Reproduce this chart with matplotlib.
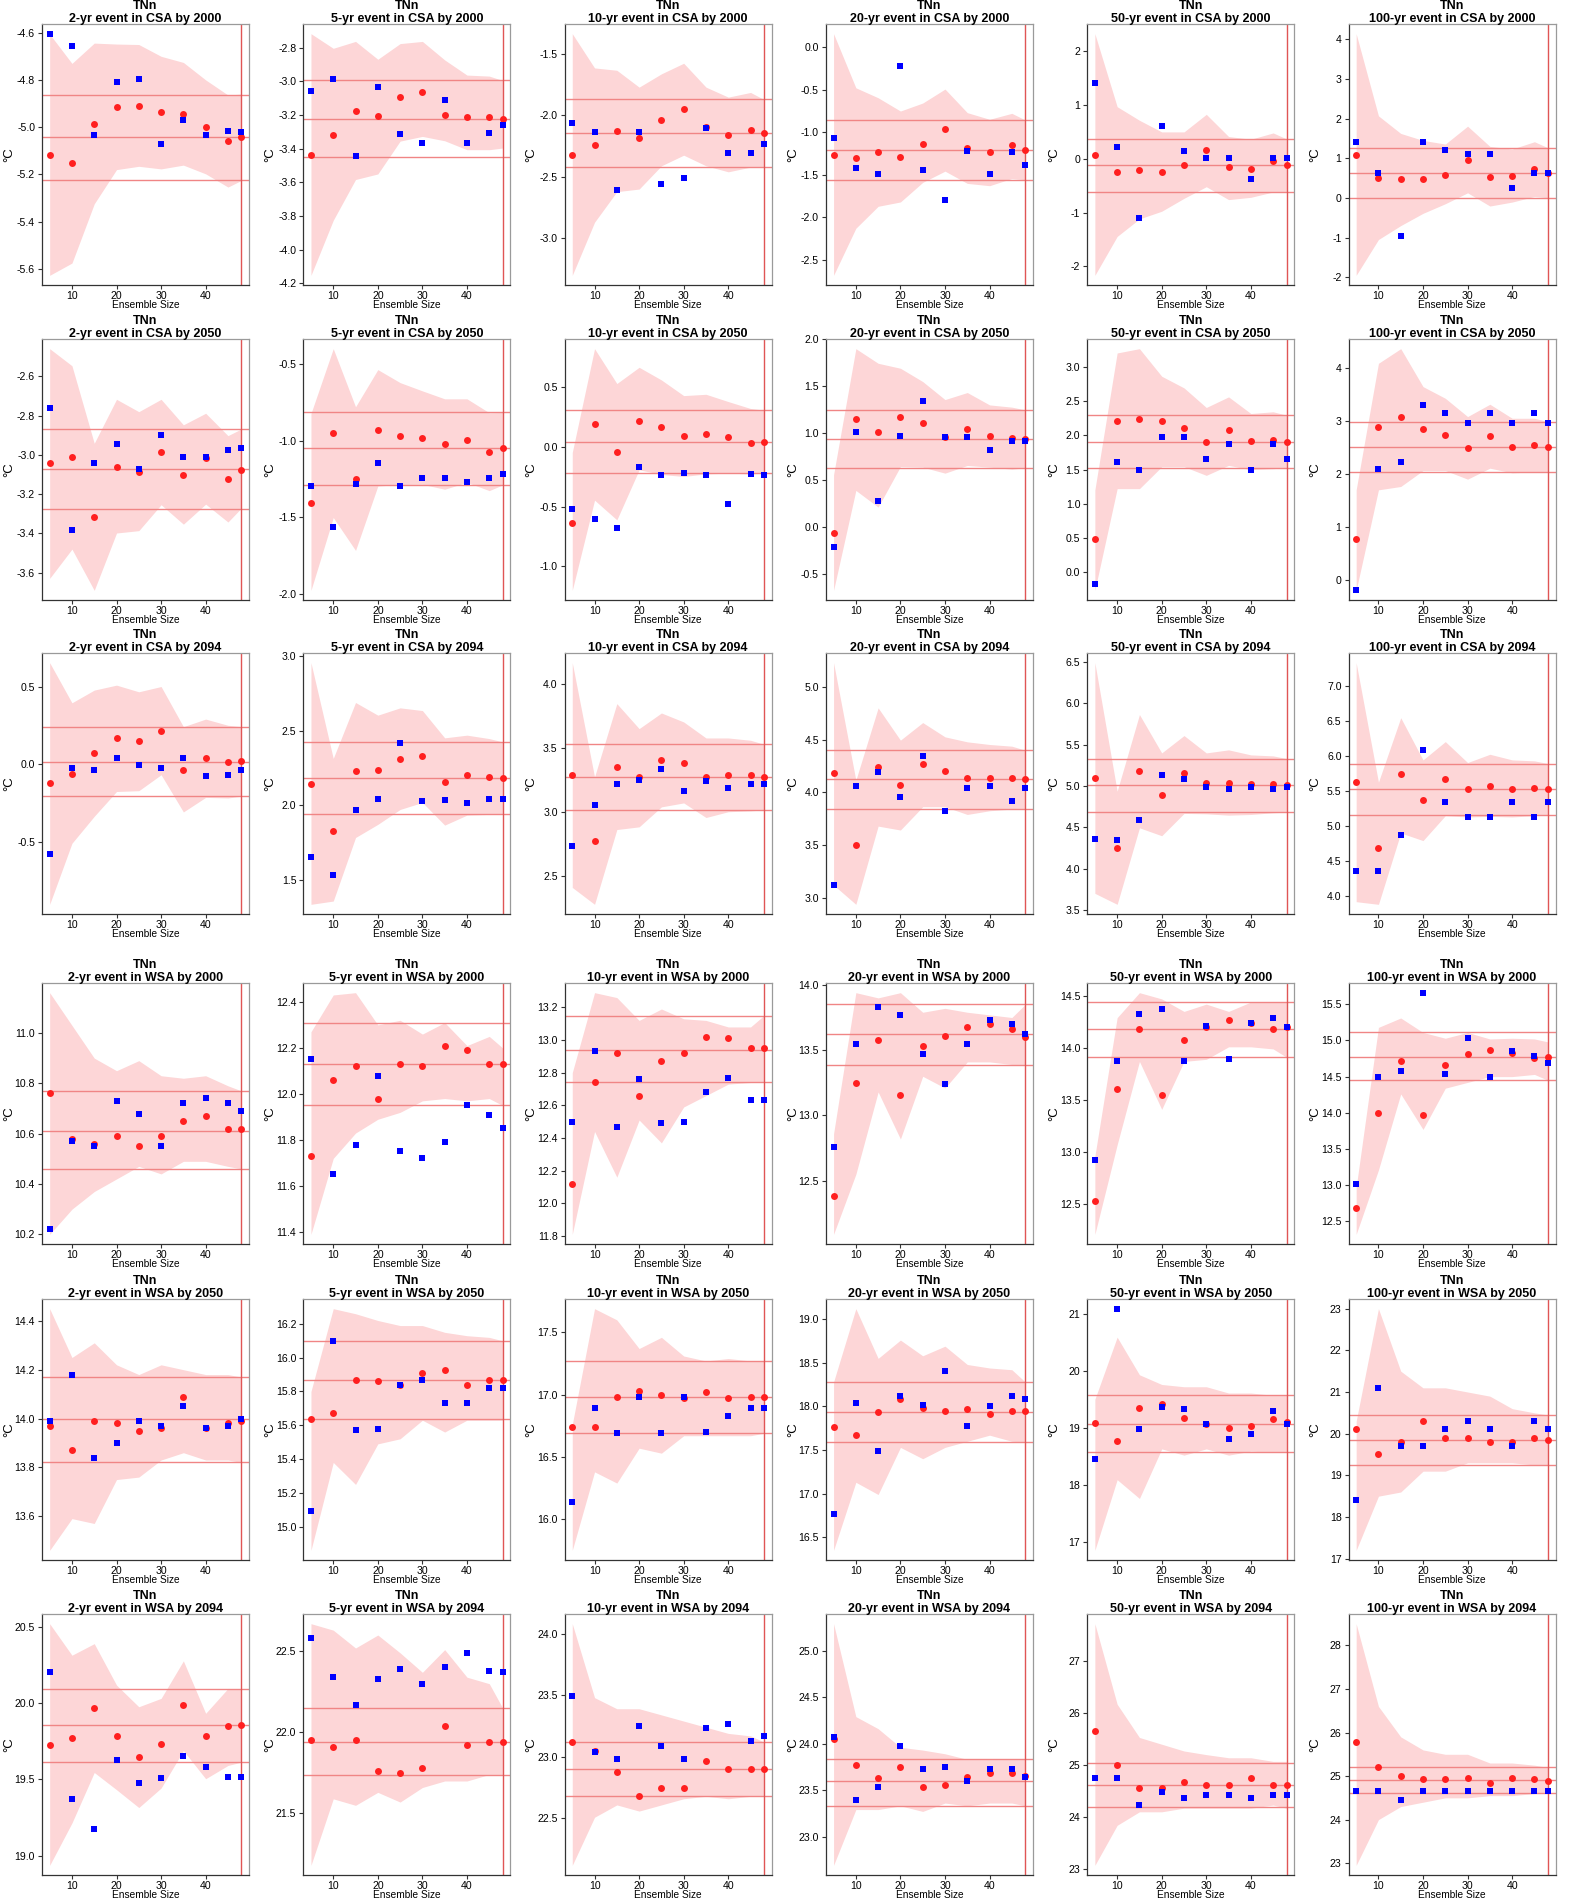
"""TNn return-level convergence vs ensemble size, CSA/WSA, 2000/2050/2094."""

import matplotlib
matplotlib.use("Agg")
import matplotlib.pyplot as plt
import numpy as np

plt.rcParams["font.family"] = ["Liberation Sans", "DejaVu Sans"]
plt.rcParams["axes.unicode_minus"] = False

OUTPUT = "out.png"

ENSEMBLE = [5, 10, 15, 20, 25, 30, 35, 40, 45, 48]
EVENTS = ["2-yr", "5-yr", "10-yr", "20-yr", "50-yr", "100-yr"]
SCENARIOS = [("CSA", 2000), ("CSA", 2050), ("CSA", 2094),
             ("WSA", 2000), ("WSA", 2050), ("WSA", 2094)]

# ---------------------------------------------------------------------------
# Data: one list per scenario, one row per event (2,5,10,20,50,100-yr)
# red = circles, blue = squares, hi/lo = shaded band, lines = 3 horizontal refs
# ---------------------------------------------------------------------------
csa2000_red = [
    [-5.120, -5.154, -4.985, -4.913, -4.909, -4.937, -4.943, -5.000, -5.060, -5.043],
    [-3.435, -3.319, -3.174, -3.207, -3.091, -3.066, -3.197, -3.213, -3.213, -3.223],
    [-2.319, -2.241, -2.125, -2.184, -2.039, -1.950, -2.092, -2.157, -2.117, -2.146],
    [-1.264, -1.307, -1.229, -1.287, -1.135, -0.967, -1.186, -1.236, -1.154, -1.209],
    [0.080, -0.241, -0.216, -0.247, -0.117, 0.167, -0.160, -0.185, -0.049, -0.123],
    [1.092, 0.499, 0.474, 0.482, 0.582, 0.958, 0.541, 0.557, 0.724, 0.624],
]
csa2000_blue = [
    [-4.604, -4.655, -5.033, -4.807, -4.795, -5.070, -4.971, -5.033, -5.015, -5.019],
    [-3.060, -2.987, -3.443, -3.034, -3.311, -3.366, -3.109, -3.366, -3.304, -3.260],
    [-2.063, -2.133, -2.607, -2.133, -2.556, -2.507, -2.101, -2.308, -2.308, -2.233],
    [-1.069, -1.424, -1.490, -0.222, -1.447, -1.794, -1.221, -1.490, -1.232, -1.392],
    [1.401, 0.228, -1.093, 0.617, 0.136, 0.012, 0.012, -0.370, 0.012, 0.012],
    [1.410, 0.624, -0.955, 1.410, 1.217, 1.109, 1.109, 0.240, 0.624, 0.624],
]
csa2000_hi = [
    [-4.606, -4.730, -4.644, -4.648, -4.650, -4.700, -4.726, -4.800, -4.864, -4.860],
    [-2.717, -2.804, -2.763, -2.869, -2.776, -2.763, -2.873, -2.963, -2.969, -2.995],
    [-1.338, -1.616, -1.635, -1.772, -1.664, -1.578, -1.772, -1.853, -1.815, -1.872],
    [0.156, -0.480, -0.597, -0.753, -0.659, -0.495, -0.772, -0.850, -0.780, -0.858],
    [2.327, 0.969, 0.716, 0.500, 0.500, 0.827, 0.414, 0.364, 0.481, 0.370],
    [4.142, 2.070, 1.627, 1.451, 1.359, 1.810, 1.300, 1.234, 1.418, 1.267],
]
csa2000_lo = [
    [-5.628, -5.576, -5.325, -5.180, -5.166, -5.177, -5.161, -5.198, -5.254, -5.226],
    [-4.152, -3.825, -3.583, -3.550, -3.355, -3.327, -3.353, -3.406, -3.406, -3.396],
    [-3.299, -2.868, -2.620, -2.599, -2.410, -2.324, -2.410, -2.459, -2.421, -2.418],
    [-2.683, -2.130, -1.872, -1.821, -1.591, -1.459, -1.603, -1.630, -1.545, -1.560],
    [-2.167, -1.444, -1.117, -0.975, -0.735, -0.519, -0.759, -0.716, -0.617, -0.611],
    [-1.950, -1.047, -0.696, -0.387, -0.145, 0.130, -0.203, -0.103, 0.039, 0.006],
]
csa2000_lines = [[-4.862, -5.041, -5.222], [-2.995, -3.223, -3.447],
                 [-1.872, -2.146, -2.421], [-0.858, -1.209, -1.560],
                 [0.370, -0.123, -0.617], [1.250, 0.624, 0.006]]

csa2050_red = [
    [-3.042, -3.012, -3.315, -3.061, -3.085, -2.983, -3.102, -3.017, -3.124, -3.075],
    [-1.407, -0.950, -1.252, -0.933, -0.970, -0.980, -1.022, -0.996, -1.074, -1.048],
    [-0.637, 0.193, -0.041, 0.221, 0.171, 0.093, 0.110, 0.087, 0.034, 0.043],
    [-0.070, 1.148, 1.009, 1.169, 1.102, 0.963, 1.045, 0.967, 0.942, 0.938],
    [0.481, 2.209, 2.243, 2.204, 2.112, 1.903, 2.073, 1.913, 1.932, 1.908],
    [0.784, 2.890, 3.072, 2.853, 2.746, 2.495, 2.721, 2.508, 2.552, 2.520],
]
csa2050_blue = [
    [-2.759, -3.381, -3.041, -2.946, -3.073, -2.898, -3.012, -3.012, -2.976, -2.964],
    [-1.293, -1.565, -1.283, -1.146, -1.293, -1.243, -1.243, -1.267, -1.243, -1.220],
    [-0.523, -0.604, -0.679, -0.164, -0.236, -0.214, -0.236, -0.479, -0.230, -0.236],
    [-0.216, 1.006, 0.274, 0.970, 1.347, 0.963, 0.963, 0.821, 0.917, 0.917],
    [-0.175, 1.617, 1.500, 1.981, 1.981, 1.660, 1.869, 1.500, 1.869, 1.660],
    [-0.176, 2.100, 2.238, 3.304, 3.147, 2.959, 3.147, 2.959, 3.147, 2.959],
]
csa2050_hi = [
    [-2.459, -2.546, -2.941, -2.717, -2.780, -2.717, -2.847, -2.788, -2.902, -2.868],
    [-0.822, -0.398, -0.778, -0.535, -0.620, -0.674, -0.726, -0.726, -0.817, -0.815],
    [-0.046, 0.823, 0.531, 0.667, 0.561, 0.430, 0.441, 0.380, 0.322, 0.308],
    [0.555, 1.900, 1.744, 1.691, 1.549, 1.357, 1.432, 1.300, 1.276, 1.247],
    [1.204, 3.204, 3.267, 2.864, 2.694, 2.408, 2.563, 2.320, 2.345, 2.296],
    [1.705, 4.088, 4.364, 3.649, 3.429, 3.085, 3.317, 3.053, 3.053, 2.991],
]
csa2050_lo = [
    [-3.629, -3.480, -3.690, -3.398, -3.386, -3.254, -3.353, -3.251, -3.342, -3.271],
    [-1.978, -1.502, -1.717, -1.296, -1.286, -1.285, -1.317, -1.272, -1.326, -1.289],
    [-1.200, -0.445, -0.610, -0.191, -0.230, -0.247, -0.225, -0.219, -0.225, -0.219],
    [-0.678, 0.388, 0.210, 0.643, 0.636, 0.572, 0.654, 0.636, 0.615, 0.629],
    [-0.262, 1.223, 1.223, 1.544, 1.544, 1.417, 1.563, 1.500, 1.515, 1.529],
    [-0.188, 1.705, 1.768, 2.069, 2.069, 1.906, 2.113, 2.025, 2.044, 2.050],
]
csa2050_lines = [[-2.868, -3.073, -3.278], [-0.815, -1.048, -1.287],
                 [0.308, 0.043, -0.219], [1.247, 0.938, 0.629],
                 [2.296, 1.908, 1.524], [2.978, 2.520, 2.050]]

csa2094_red = [
    [-0.123, -0.063, 0.074, 0.170, 0.151, 0.217, -0.035, 0.042, 0.016, 0.020],
    [2.143, 1.828, 2.232, 2.234, 2.310, 2.328, 2.154, 2.199, 2.188, 2.181],
    [3.288, 2.773, 3.353, 3.270, 3.407, 3.384, 3.270, 3.290, 3.285, 3.275],
    [4.179, 3.500, 4.242, 4.069, 4.264, 4.198, 4.138, 4.138, 4.138, 4.126],
    [5.098, 4.253, 5.179, 4.893, 5.151, 5.034, 5.042, 5.022, 5.022, 5.010],
    [5.635, 4.692, 5.744, 5.374, 5.673, 5.526, 5.578, 5.536, 5.545, 5.531],
]
csa2094_blue = [
    [-0.581, -0.022, -0.035, 0.040, -0.001, -0.022, 0.040, -0.076, -0.070, -0.035],
    [1.652, 1.533, 1.967, 2.038, 2.415, 2.025, 2.033, 2.013, 2.042, 2.042],
    [2.731, 3.054, 3.220, 3.244, 3.337, 3.163, 3.241, 3.189, 3.220, 3.220],
    [3.126, 4.063, 4.195, 3.959, 4.346, 3.827, 4.041, 4.063, 3.918, 4.041],
    [4.357, 4.349, 4.583, 5.131, 5.082, 4.986, 4.966, 4.986, 4.966, 4.986],
    [4.365, 4.365, 4.872, 6.085, 5.341, 5.133, 5.133, 5.341, 5.133, 5.341],
]
csa2094_hi = [
    [0.656, 0.397, 0.479, 0.511, 0.468, 0.502, 0.243, 0.292, 0.252, 0.243],
    [2.955, 2.313, 2.688, 2.603, 2.652, 2.634, 2.451, 2.469, 2.446, 2.424],
    [4.164, 3.272, 3.844, 3.649, 3.771, 3.701, 3.576, 3.576, 3.558, 3.527],
    [5.226, 4.116, 4.799, 4.494, 4.660, 4.525, 4.478, 4.453, 4.437, 4.399],
    [6.492, 4.937, 5.864, 5.400, 5.610, 5.400, 5.437, 5.376, 5.364, 5.332],
    [7.336, 5.630, 6.550, 5.948, 6.209, 5.910, 6.028, 5.948, 5.934, 5.896],
]
csa2094_lo = [
    [-0.903, -0.509, -0.335, -0.175, -0.170, -0.067, -0.307, -0.213, -0.217, -0.205],
    [1.335, 1.357, 1.783, 1.871, 1.971, 2.018, 1.866, 1.933, 1.938, 1.942],
    [2.409, 2.277, 2.861, 2.882, 3.038, 3.069, 2.955, 3.000, 3.007, 3.015],
    [3.126, 2.943, 3.682, 3.645, 3.865, 3.865, 3.792, 3.827, 3.843, 3.843],
    [3.701, 3.568, 4.494, 4.398, 4.668, 4.663, 4.647, 4.655, 4.676, 4.684],
    [3.924, 3.886, 4.905, 4.796, 5.152, 5.133, 5.142, 5.133, 5.152, 5.166],
]
csa2094_lines = [[0.241, 0.016, -0.205], [2.422, 2.181, 1.940],
                 [3.527, 3.270, 3.017], [4.399, 4.126, 3.846],
                 [5.332, 5.006, 4.684], [5.896, 5.531, 5.166]]

wsa2000_red = [
    [10.76, 10.58, 10.56, 10.59, 10.55, 10.59, 10.65, 10.67, 10.62, 10.62],
    [11.73, 12.06, 12.12, 11.98, 12.13, 12.12, 12.21, 12.19, 12.13, 12.13],
    [12.12, 12.74, 12.92, 12.66, 12.87, 12.92, 13.02, 13.01, 12.95, 12.95],
    [12.38, 13.25, 13.58, 13.16, 13.53, 13.61, 13.68, 13.70, 13.66, 13.60],
    [12.53, 13.61, 14.18, 13.55, 14.08, 14.20, 14.27, 14.24, 14.18, 14.20],
    [12.69, 14.00, 14.71, 13.97, 14.66, 14.81, 14.87, 14.82, 14.76, 14.77],
]
wsa2000_blue = [
    [10.22, 10.57, 10.55, 10.73, 10.68, 10.55, 10.72, 10.74, 10.72, 10.69],
    [12.15, 11.65, 11.78, 12.08, 11.75, 11.72, 11.79, 11.95, 11.91, 11.85],
    [12.50, 12.93, 12.47, 12.76, 12.49, 12.50, 12.68, 12.77, 12.63, 12.63],
    [12.76, 13.55, 13.83, 13.77, 13.47, 13.24, 13.55, 13.73, 13.70, 13.62],
    [12.92, 13.87, 14.33, 14.37, 13.87, 14.21, 13.89, 14.24, 14.29, 14.20],
    [13.02, 14.50, 14.58, 15.66, 14.53, 15.03, 14.50, 14.85, 14.79, 14.69],
]
wsa2000_hi = [
    [11.16, 11.03, 10.90, 10.85, 10.89, 10.83, 10.82, 10.83, 10.79, 10.77],
    [12.27, 12.43, 12.44, 12.30, 12.32, 12.26, 12.31, 12.21, 12.25, 12.20],
    [12.80, 13.29, 13.26, 13.12, 13.19, 13.13, 13.12, 13.08, 13.08, 13.15],
    [12.86, 13.94, 13.90, 13.94, 13.79, 13.82, 13.79, 13.77, 13.75, 13.85],
    [12.96, 14.29, 14.53, 14.47, 14.35, 14.42, 14.35, 14.44, 14.44, 14.44],
    [12.97, 15.18, 15.31, 15.11, 15.03, 15.11, 15.02, 15.03, 15.02, 14.98],
]
wsa2000_lo = [
    [10.20, 10.30, 10.37, 10.42, 10.47, 10.44, 10.49, 10.49, 10.47, 10.46],
    [11.39, 11.72, 11.83, 11.89, 11.92, 11.97, 11.98, 11.97, 11.98, 11.95],
    [11.81, 12.44, 12.16, 12.51, 12.37, 12.59, 12.66, 12.73, 12.74, 12.74],
    [12.09, 12.55, 13.18, 12.82, 13.30, 13.21, 13.41, 13.41, 13.39, 13.39],
    [12.21, 13.07, 13.87, 13.41, 13.87, 13.89, 14.01, 14.01, 13.99, 13.91],
    [12.32, 13.21, 14.26, 13.77, 14.34, 14.42, 14.50, 14.50, 14.53, 14.45],
]
wsa2000_lines = [[10.77, 10.61, 10.46], [12.31, 12.13, 11.95],
                 [13.15, 12.94, 12.74], [13.85, 13.62, 13.39],
                 [14.44, 14.18, 13.91], [15.11, 14.77, 14.45]]

wsa2050_red = [
    [13.97, 13.87, 13.99, 13.98, 13.95, 13.96, 14.09, 13.96, 13.98, 13.99],
    [15.64, 15.67, 15.87, 15.86, 15.84, 15.91, 15.93, 15.84, 15.87, 15.87],
    [16.74, 16.74, 16.98, 17.03, 17.00, 16.97, 17.02, 16.97, 16.98, 16.98],
    [17.76, 17.67, 17.94, 18.08, 17.98, 17.95, 17.97, 17.91, 17.95, 17.95],
    [19.09, 18.76, 19.35, 19.41, 19.17, 19.07, 19.00, 19.04, 19.15, 19.10],
    [20.10, 19.50, 19.80, 20.30, 19.90, 19.90, 19.80, 19.80, 19.90, 19.85],
]
wsa2050_blue = [
    [13.99, 14.18, 13.84, 13.90, 13.99, 13.97, 14.05, 13.96, 13.97, 14.00],
    [15.09, 16.10, 15.57, 15.58, 15.84, 15.87, 15.73, 15.73, 15.82, 15.82],
    [16.14, 16.89, 16.69, 16.98, 16.69, 16.98, 16.70, 16.83, 16.89, 16.89],
    [16.77, 18.04, 17.49, 18.12, 18.02, 18.40, 17.78, 18.01, 18.12, 18.08],
    [18.46, 21.09, 18.98, 19.37, 19.33, 19.07, 18.80, 18.89, 19.30, 19.07],
    [18.40, 21.10, 19.70, 19.70, 20.10, 20.30, 20.10, 19.70, 20.30, 20.10],
]
wsa2050_hi = [
    [14.45, 14.25, 14.31, 14.22, 14.18, 14.22, 14.20, 14.18, 14.18, 14.17],
    [15.80, 16.29, 16.26, 16.22, 16.19, 16.19, 16.15, 16.13, 16.12, 16.10],
    [16.76, 17.69, 17.60, 17.37, 17.46, 17.31, 17.27, 17.29, 17.27, 17.27],
    [18.28, 19.12, 18.55, 18.76, 18.58, 18.69, 18.48, 18.44, 18.42, 18.28],
    [19.50, 20.59, 19.93, 19.76, 19.72, 19.72, 19.61, 19.61, 19.57, 19.57],
    [20.30, 23.00, 21.50, 21.10, 21.10, 21.00, 20.90, 20.60, 20.50, 20.45],
]
wsa2050_lo = [
    [13.46, 13.59, 13.57, 13.75, 13.76, 13.83, 13.86, 13.83, 13.83, 13.82],
    [14.86, 15.38, 15.25, 15.49, 15.52, 15.63, 15.56, 15.63, 15.63, 15.63],
    [15.75, 16.38, 16.29, 16.57, 16.53, 16.67, 16.67, 16.67, 16.67, 16.69],
    [16.35, 17.13, 16.99, 17.53, 17.40, 17.53, 17.60, 17.67, 17.60, 17.59],
    [16.85, 18.09, 17.76, 18.63, 18.52, 18.63, 18.52, 18.59, 18.57, 18.57],
    [17.20, 18.50, 18.60, 19.10, 19.10, 19.30, 19.30, 19.30, 19.25, 19.25],
]
wsa2050_lines = [[14.17, 14.00, 13.82], [16.10, 15.87, 15.64],
                 [17.27, 16.98, 16.69], [18.28, 17.94, 17.59],
                 [19.57, 19.07, 18.57], [20.45, 19.85, 19.25]]

wsa2094_red = [
    [19.727, 19.771, 19.969, 19.782, 19.647, 19.736, 19.986, 19.782, 19.849, 19.856],
    [21.95, 21.91, 21.95, 21.76, 21.75, 21.78, 22.04, 21.92, 21.94, 21.94],
    [23.12, 23.05, 22.88, 22.68, 22.75, 22.75, 22.97, 22.90, 22.90, 22.90],
    [24.05, 23.77, 23.63, 23.75, 23.53, 23.55, 23.64, 23.68, 23.68, 23.65],
    [25.65, 25.01, 24.55, 24.55, 24.68, 24.62, 24.62, 24.75, 24.62, 24.62],
    [25.78, 25.21, 25.01, 24.93, 24.93, 24.96, 24.85, 24.96, 24.93, 24.88],
]
wsa2094_blue = [
    [20.202, 19.374, 19.178, 19.625, 19.475, 19.507, 19.653, 19.581, 19.518, 19.518],
    [22.58, 22.34, 22.17, 22.33, 22.39, 22.30, 22.40, 22.49, 22.38, 22.37],
    [23.49, 23.04, 22.98, 23.25, 23.09, 22.98, 23.23, 23.27, 23.13, 23.17],
    [24.07, 23.39, 23.53, 23.97, 23.73, 23.75, 23.60, 23.73, 23.73, 23.64],
    [24.75, 24.75, 24.23, 24.49, 24.36, 24.43, 24.43, 24.36, 24.43, 24.43],
    [24.66, 24.66, 24.44, 24.66, 24.66, 24.66, 24.66, 24.66, 24.66, 24.66],
]
wsa2094_hi = [
    [20.522, 20.315, 20.391, 20.119, 19.977, 20.032, 20.278, 19.934, 20.097, 20.095],
    [22.67, 22.63, 22.52, 22.60, 22.49, 22.37, 22.51, 22.34, 22.30, 22.15],
    [24.08, 23.48, 23.39, 23.39, 23.34, 23.29, 23.24, 23.19, 23.17, 23.12],
    [25.29, 24.29, 24.16, 23.96, 23.93, 23.89, 23.83, 23.83, 23.83, 23.83],
    [27.72, 26.17, 25.53, 25.40, 25.27, 25.20, 25.14, 25.14, 25.07, 25.07],
    [28.50, 26.60, 25.90, 25.60, 25.50, 25.50, 25.30, 25.30, 25.25, 25.20],
]
wsa2094_lo = [
    [18.937, 19.215, 19.546, 19.433, 19.316, 19.444, 19.690, 19.505, 19.592, 19.614],
    [21.18, 21.59, 21.55, 21.63, 21.57, 21.66, 21.70, 21.70, 21.74, 21.74],
    [22.12, 22.51, 22.61, 22.56, 22.61, 22.66, 22.68, 22.66, 22.68, 22.68],
    [22.69, 23.29, 23.29, 23.33, 23.27, 23.36, 23.33, 23.36, 23.36, 23.33],
    [23.07, 23.84, 24.10, 24.10, 24.17, 24.17, 24.17, 24.17, 24.23, 24.17],
    [22.95, 24.00, 24.30, 24.40, 24.50, 24.50, 24.55, 24.55, 24.60, 24.60],
]
wsa2094_lines = [[20.095, 19.856, 19.618], [22.15, 21.94, 21.74],
                 [23.12, 22.90, 22.68], [23.83, 23.60, 23.33],
                 [25.03, 24.62, 24.19], [25.20, 24.90, 24.60]]

# y tick spacing per scenario row
tick_steps = [
    [0.2, 0.2, 0.5, 0.5, 1.0, 1.0],
    [0.2, 0.5, 0.5, 0.5, 0.5, 1.0],
    [0.5, 0.5, 0.5, 0.5, 0.5, 0.5],
    [0.2, 0.2, 0.2, 0.5, 0.5, 0.5],
    [0.2, 0.2, 0.5, 0.5, 1.0, 1.0],
    [0.5, 0.5, 0.5, 0.5, 1.0, 1.0],
]

reds = [csa2000_red, csa2050_red, csa2094_red, wsa2000_red, wsa2050_red, wsa2094_red]
blues = [csa2000_blue, csa2050_blue, csa2094_blue, wsa2000_blue, wsa2050_blue, wsa2094_blue]
his = [csa2000_hi, csa2050_hi, csa2094_hi, wsa2000_hi, wsa2050_hi, wsa2094_hi]
los = [csa2000_lo, csa2050_lo, csa2094_lo, wsa2000_lo, wsa2050_lo, wsa2094_lo]
refs = [csa2000_lines, csa2050_lines, csa2094_lines,
        wsa2000_lines, wsa2050_lines, wsa2094_lines]

# ---------------------------------------------------------------------------
# Layout (pixels)
# ---------------------------------------------------------------------------
W, H = 1571, 1903
fig = plt.figure(figsize=(W / 100, H / 100), dpi=100)
col_left = [42 + c * 261.3 for c in range(6)]
row_top = [24, 339, 653, 983, 1299, 1614]
AW, AH = 207, 261

BAND = "#FDD6D7"
REFLINE = "#F08585"
VLINE = "#E05555"

for r, (region, year) in enumerate(SCENARIOS):
    for c, event in enumerate(EVENTS):
        ax = fig.add_axes([col_left[c] / W, 1 - (row_top[r] + AH) / H, AW / W, AH / H])
        hi = np.array(his[r][c])
        lo = np.array(los[r][c])
        red = np.array(reds[r][c])
        blue = np.array(blues[r][c])
        lines = refs[r][c]

        ax.fill_between(ENSEMBLE, lo, hi, color=BAND, lw=0, zorder=1)
        for v in lines:
            ax.axhline(v, color=REFLINE, lw=1.0, zorder=2)
        ax.axvline(48, color=VLINE, lw=1.0, zorder=2)
        ax.plot(ENSEMBLE, red, "o", color="#FF1F1F", ms=5, mew=0, zorder=3)
        ax.plot(ENSEMBLE, blue, "s", color="#0000FF", ms=4.4, mew=0, zorder=4)

        allv = np.concatenate([hi, lo, red, blue, lines])
        lo_v, hi_v = allv.min(), allv.max()
        pad = 0.04 * (hi_v - lo_v)
        ax.set_ylim(lo_v - pad, hi_v + pad)
        ax.set_xlim(3.28, 49.72)

        step = tick_steps[r][c]
        k0 = int(np.ceil((lo_v - pad) / step))
        k1 = int(np.floor((hi_v + pad) / step))
        ticks = [round(k * step, 6) + 0.0 for k in range(k0, k1 + 1)]
        ax.set_yticks(ticks)
        fmt = "{:.0f}" if step >= 1 else "{:.1f}"
        ax.set_yticklabels([fmt.format(t) for t in ticks])
        ax.set_xticks([10, 20, 30, 40])

        ax.tick_params(axis="both", direction="out", length=3, width=0.8,
                       labelsize=7.6, color="#333333")
        ax.tick_params(axis="y", pad=2)
        ax.tick_params(axis="x", pad=1.5)
        for side in ("left", "bottom"):
            ax.spines[side].set_color("#333333")
            ax.spines[side].set_linewidth(0.9)
        for side in ("top", "right"):
            ax.spines[side].set_color("#9a9a9a")
            ax.spines[side].set_linewidth(0.9)

        ax.set_xlabel("Ensemble Size", fontsize=7.3)
        ax.xaxis.set_label_coords(0.5, -15 / AH)
        ax.set_ylabel("°C", fontsize=9.5)
        ax.yaxis.set_label_coords(-27 / AW, 0.5)

        ax.annotate("TNn", xy=(0.5, 1), xycoords="axes fraction",
                    xytext=(0, 10.8), textcoords="offset points",
                    ha="center", va="baseline", fontsize=9, fontweight="bold")
        ax.annotate(f"{event} event in {region} by {year}", xy=(0.5, 1),
                    xycoords="axes fraction", xytext=(0, 1.4),
                    textcoords="offset points", ha="center", va="baseline",
                    fontsize=9, fontweight="bold")

fig.savefig(OUTPUT, dpi=100)
print(f"Saved {OUTPUT}")
